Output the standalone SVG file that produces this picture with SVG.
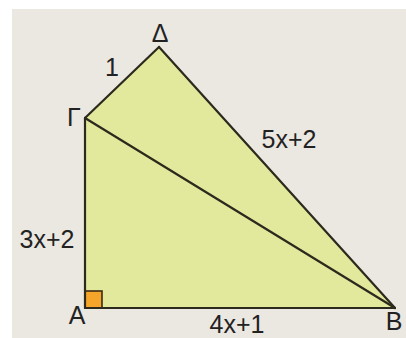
<svg xmlns="http://www.w3.org/2000/svg" width="406" height="338" viewBox="0 0 406 338">
<style>
.edge{stroke:#2b2a1d;stroke-width:2.2;fill:none;stroke-linejoin:miter;stroke-linecap:round}
.lbl{font-family:"Liberation Sans",Arial,sans-serif;font-size:25px;fill:#222}
</style>
<rect x="0" y="0" width="406" height="338" fill="#ffffff"/>
<rect x="12" y="9" width="394" height="329" fill="#ebe7e1"/>
<g id="shape">
<polygon points="85,308 395,308 159,47 85,118" fill="#e2e89c"/>
</g>
<g id="right-angle">
<rect x="85" y="291" width="17" height="17" fill="#f5a529" stroke="#3a2a14" stroke-width="1.6"/>
</g>
<g id="connectors">
<line class="edge" x1="85" y1="308" x2="395" y2="308"/>
<line class="edge" x1="85" y1="308" x2="85" y2="118"/>
<line class="edge" x1="85" y1="118" x2="159" y2="47"/>
<line class="edge" x1="159" y1="47" x2="395" y2="308"/>
<line class="edge" x1="85" y1="118" x2="395" y2="308"/>
</g>
<g id="node-Delta"><text class="lbl" x="160" y="42" text-anchor="middle">Δ</text></g>
<g id="node-Gamma"><text class="lbl" x="67" y="126">Γ</text></g>
<g id="node-A"><text class="lbl" x="77" y="324" text-anchor="middle">A</text></g>
<g id="node-B"><text class="lbl" x="394" y="330" text-anchor="middle">B</text></g>
<g id="labels">
<text class="lbl" x="112" y="76" text-anchor="middle">1</text>
<text class="lbl" x="289" y="148" text-anchor="middle" font-size="26">5x+2</text>
<text class="lbl" x="47" y="248" text-anchor="middle" font-size="26">3x+2</text>
<text class="lbl" x="237" y="333" text-anchor="middle" font-size="26">4x+1</text>
</g>
</svg>
